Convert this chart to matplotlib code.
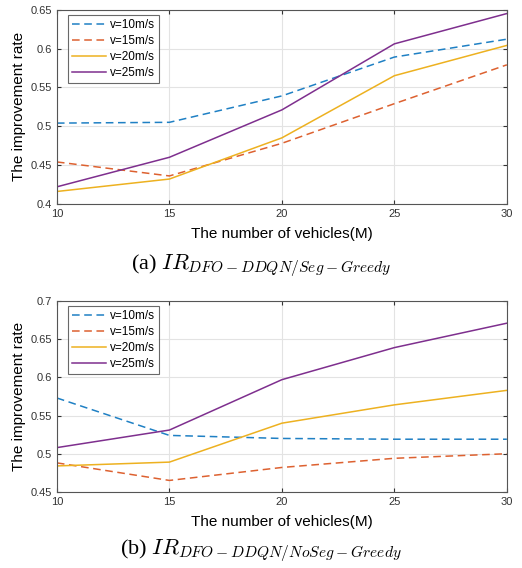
import matplotlib
matplotlib.use("Agg")
import matplotlib.pyplot as plt

vehicles = [10, 15, 20, 25, 30]
labels = ["v=10m/s", "v=15m/s", "v=20m/s", "v=25m/s"]

# (a) DFO-DDQN vs Seg-Greedy
seg_v10 = [0.504, 0.505, 0.539, 0.589, 0.612]
seg_v15 = [0.454, 0.436, 0.478, 0.529, 0.579]
seg_v20 = [0.416, 0.432, 0.485, 0.565, 0.604]
seg_v25 = [0.422, 0.460, 0.521, 0.606, 0.645]

# (b) DFO-DDQN vs NoSeg-Greedy
noseg_v10 = [0.573, 0.524, 0.520, 0.519, 0.519]
noseg_v15 = [0.488, 0.465, 0.482, 0.494, 0.500]
noseg_v20 = [0.484, 0.489, 0.540, 0.564, 0.583]
noseg_v25 = [0.508, 0.531, 0.597, 0.639, 0.671]

colors = ["#1f80c4", "#dd6130", "#edb120", "#7e2f8e"]
styles = ["--", "--", "-", "-"]

plt.rcParams["mathtext.fontset"] = "cm"
plt.rcParams["font.family"] = ["Liberation Sans", "DejaVu Sans"]


def draw_panel(ax, series, ylim, yticks):
    for vals, lab, c, ls in zip(series, labels, colors, styles):
        line, = ax.plot(vehicles, vals, ls, color=c, lw=1.1, label=lab)
        if ls == "--":
            line.set_dashes((5, 3))
    ax.set_xlim(10, 30)
    ax.set_ylim(*ylim)
    ax.set_xticks(vehicles)
    ax.set_yticks(yticks)
    ax.set_yticklabels([f"{t:g}" for t in yticks])
    ax.grid(True, color="#e3e3e3", lw=0.8)
    ax.tick_params(direction="in", length=3, labelsize=8, colors="#333333",
                   top=True, right=True)
    for s in ax.spines.values():
        s.set_color("#555555")
        s.set_linewidth(0.8)
    ax.set_xlabel("The number of vehicles(M)", fontsize=11, labelpad=6)
    ax.set_ylabel("The improvement rate", fontsize=11, labelpad=3)
    leg = ax.legend(loc="upper left", fontsize=8.5, frameon=True, fancybox=False,
                    borderpad=0.35, labelspacing=0.35, handlelength=2.9,
                    handletextpad=0.3, borderaxespad=0,
                    bbox_to_anchor=(0.024, 0.975))
    leg.get_frame().set_edgecolor("#444444")
    leg.get_frame().set_linewidth(0.8)


fig = plt.figure(figsize=(5.22, 5.68), dpi=100)
ax1 = fig.add_axes([0.109, 0.641, 0.862, 0.342])
ax2 = fig.add_axes([0.109, 0.134, 0.862, 0.336])

draw_panel(ax1, [seg_v10, seg_v15, seg_v20, seg_v25], (0.4, 0.65),
           [0.4, 0.45, 0.5, 0.55, 0.6, 0.65])
draw_panel(ax2, [noseg_v10, noseg_v15, noseg_v20, noseg_v25], (0.45, 0.7),
           [0.45, 0.5, 0.55, 0.6, 0.65, 0.7])

fig.text(0.5, 1 - 266 / 568, r"(a) $IR_{DFO-DDQN/Seg-Greedy}$",
         ha="center", va="center", fontsize=16, family="Liberation Serif")
fig.text(0.5, 1 - 551 / 568, r"(b) $IR_{DFO-DDQN/NoSeg-Greedy}$",
         ha="center", va="center", fontsize=16, family="Liberation Serif")

fig.savefig("out.png", dpi=100)
